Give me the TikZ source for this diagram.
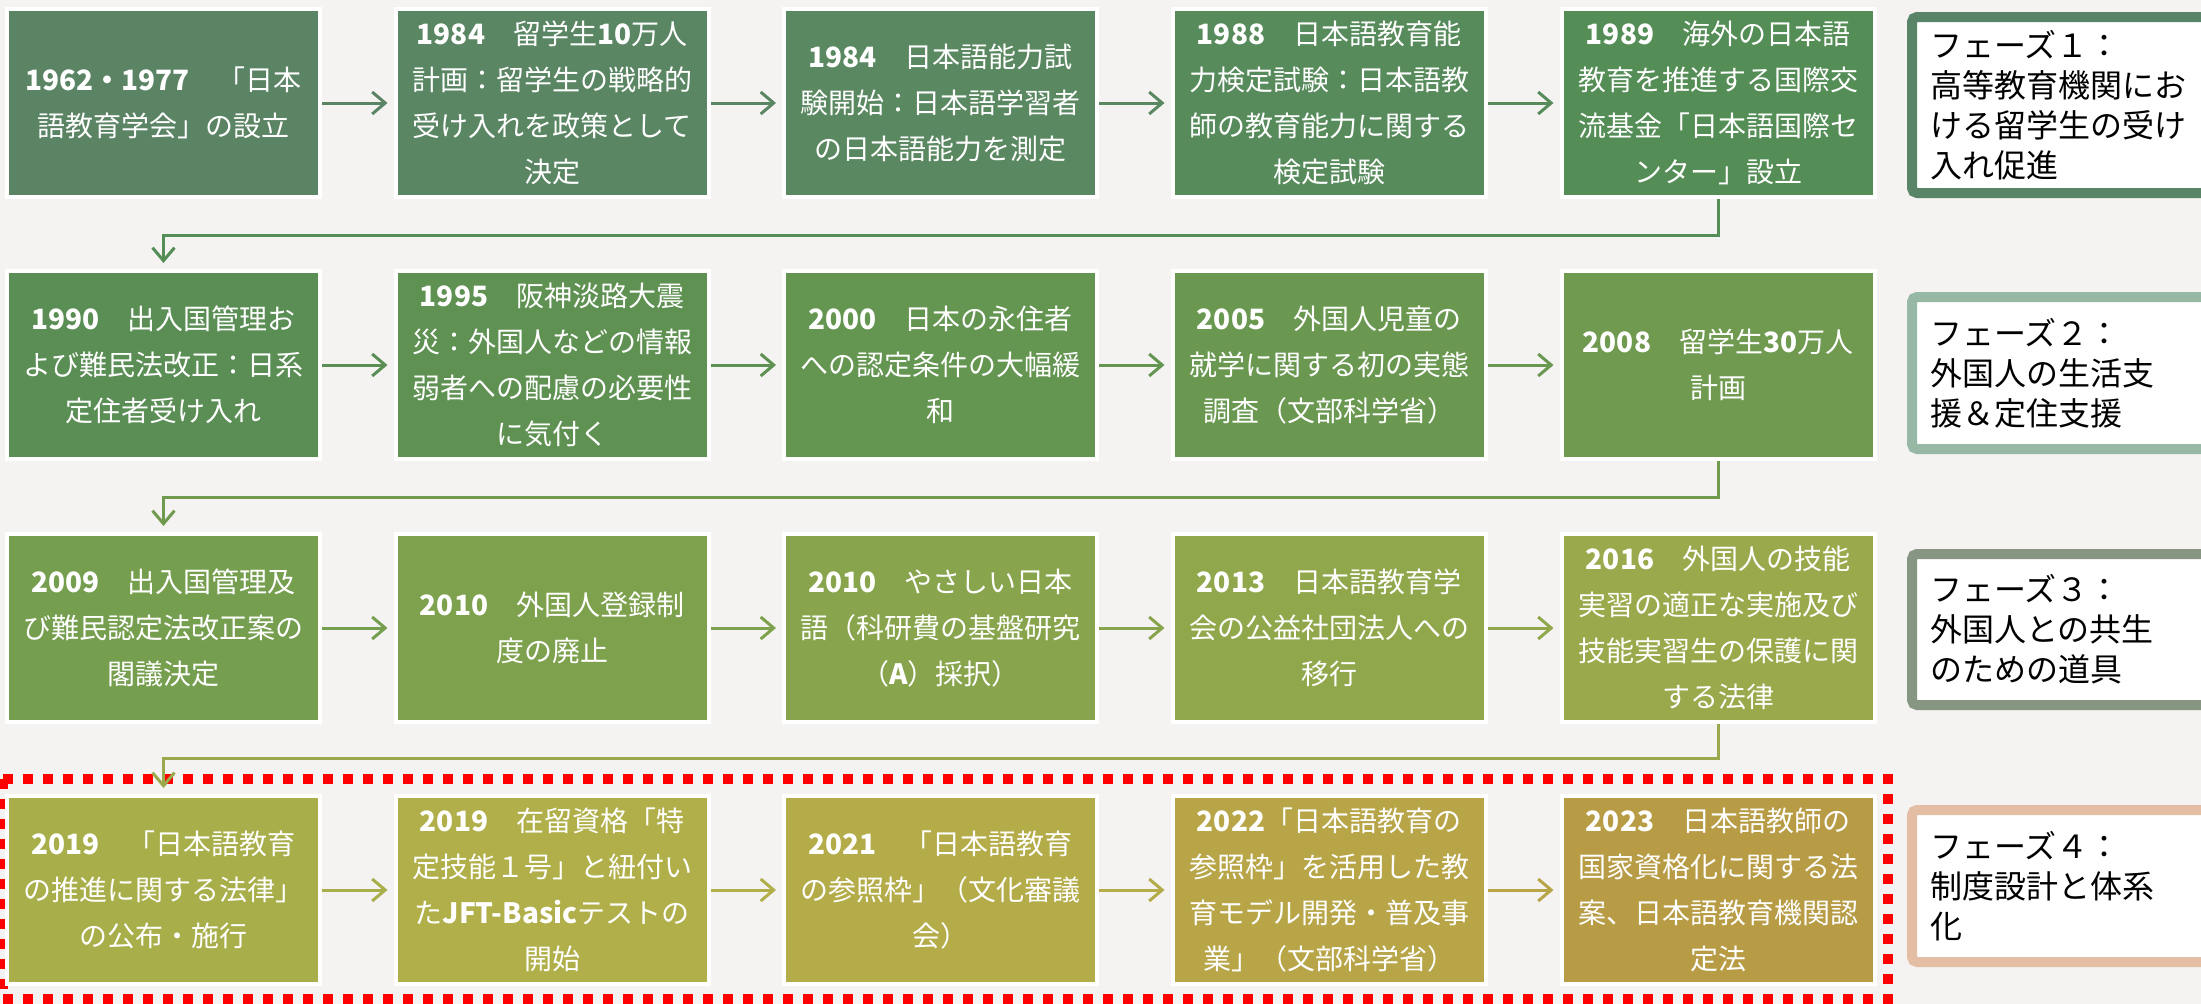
\documentclass[tikz,border=0pt]{standalone}
\usepackage{fontspec}
\setmainfont{Noto Sans CJK JP}
\usetikzlibrary{arrows.meta}
\definecolor{bg}{HTML}{F4F3F1}
\definecolor{c11}{HTML}{5B8465}
\definecolor{c12}{HTML}{5A8663}
\definecolor{c13}{HTML}{5A8861}
\definecolor{c14}{HTML}{578B5C}
\definecolor{c15}{HTML}{548D56}
\definecolor{c21}{HTML}{5A8E55}
\definecolor{c22}{HTML}{5E9152}
\definecolor{c23}{HTML}{649551}
\definecolor{c24}{HTML}{6A9851}
\definecolor{c25}{HTML}{6F9A50}
\definecolor{c31}{HTML}{769E4F}
\definecolor{c32}{HTML}{7EA14E}
\definecolor{c33}{HTML}{88A54D}
\definecolor{c34}{HTML}{91A74C}
\definecolor{c35}{HTML}{9AA94B}
\definecolor{c41}{HTML}{A8AE4A}
\definecolor{c42}{HTML}{B0AF4A}
\definecolor{c43}{HTML}{B4AB49}
\definecolor{c44}{HTML}{B7A548}
\definecolor{c45}{HTML}{B89C45}
\definecolor{p1}{HTML}{5A8468}
\definecolor{p2}{HTML}{97B8A5}
\definecolor{p3}{HTML}{869682}
\definecolor{p4}{HTML}{E3BEA5}
\tikzset{
  evbox/.style={draw=white, line width=4pt, fill=#1, minimum width=313pt,
    minimum height=188pt, text=white, align=center, inner sep=0pt,
    font=\fontsize{28pt}{46pt}\selectfont},
  flow/.style={draw=#1, line width=3pt, -{Straight Barb[length=13pt,width=22pt]},
    shorten >=6pt},
  phase/.style={draw=#1, line width=10pt, fill=white, rounded corners=5pt,
    anchor=north west, text width=304pt, inner xsep=18pt, inner ysep=0pt,
    align=left, text=black, font=\fontsize{32pt}{40pt}\selectfont},
  redframe/.style={draw=red, line width=10pt, dash pattern=on 10pt off 10pt},
}
\begin{document}
\begin{tikzpicture}[x=1pt,y=-1pt]
\fill[bg] (0,0) rectangle (2201,1004);
\useasboundingbox (0,0) rectangle (2201,1004);
\clip (0,0) rectangle (2201,1004);
\draw[redframe] (3,779) rectangle (1888,999);
% row 1
\node[evbox=c11] (b11) at (163.5,103) {\textbf{1962・1977}　「日本\\語教育学会」の設立};
\node[evbox=c12] (b12) at (552,103) {\textbf{1984}　留学生\textbf{10}万人\\計画：留学生の戦略的\\受け入れを政策として\\決定};
\node[evbox=c13] (b13) at (940.5,103) {\textbf{1984}　日本語能力試\\験開始：日本語学習者\\の日本語能力を測定};
\node[evbox=c14] (b14) at (1329,103) {\textbf{1988}　日本語教育能\\力検定試験：日本語教\\師の教育能力に関する\\検定試験};
\node[evbox=c15] (b15) at (1718,103) {\textbf{1989}　海外の日本語\\教育を推進する国際交\\流基金「日本語国際セ\\ンター」設立};
% row 2
\node[evbox=c21] (b21) at (163.5,365) {\textbf{1990}　出入国管理お\\よび難民法改正：日系\\定住者受け入れ};
\node[evbox=c22] (b22) at (552,365) {\textbf{1995}　阪神淡路大震\\災：外国人などの情報\\弱者への配慮の必要性\\に気付く};
\node[evbox=c23] (b23) at (940.5,365) {\textbf{2000}　日本の永住者\\への認定条件の大幅緩\\和};
\node[evbox=c24] (b24) at (1329,365) {\textbf{2005}　外国人児童の\\就学に関する初の実態\\調査（文部科学省）};
\node[evbox=c25] (b25) at (1718,365) {\textbf{2008}　留学生\textbf{30}万人\\計画};
% row 3
\node[evbox=c31] (b31) at (163.5,628) {\textbf{2009}　出入国管理及\\び難民認定法改正案の\\閣議決定};
\node[evbox=c32] (b32) at (552,628) {\textbf{2010}　外国人登録制\\度の廃止};
\node[evbox=c33] (b33) at (940.5,628) {\textbf{2010}　やさしい日本\\語（科研費の基盤研究\\（\textbf{A}）採択）};
\node[evbox=c34] (b34) at (1329,628) {\textbf{2013}　日本語教育学\\会の公益社団法人への\\移行};
\node[evbox=c35] (b35) at (1718,628) {\textbf{2016}　外国人の技能\\実習の適正な実施及び\\技能実習生の保護に関\\する法律};
% row 4
\node[evbox=c41] (b41) at (163.5,890) {\textbf{2019}　「日本語教育\\の推進に関する法律」\\の公布・施行};
\node[evbox=c42] (b42) at (552,890) {\textbf{2019}　在留資格「特\\定技能１号」と紐付い\\た\textbf{JFT-Basic}テストの\\開始};
\node[evbox=c43] (b43) at (940.5,890) {\textbf{2021}　「日本語教育\\の参照枠」（文化審議\\会）};
\node[evbox=c44] (b44) at (1329,890) {\textbf{2022}「日本語教育の\\参照枠」を活用した教\\育モデル開発・普及事\\業」（文部科学省）};
\node[evbox=c45] (b45) at (1718,890) {\textbf{2023}　日本語教師の\\国家資格化に関する法\\案、日本語教育機関認\\定法};
% horizontal arrows
\draw[flow=c11] (b11.east) -- (b12.west);
\draw[flow=c12] (b12.east) -- (b13.west);
\draw[flow=c13] (b13.east) -- (b14.west);
\draw[flow=c14] (b14.east) -- (b15.west);
\draw[flow=c21] (b21.east) -- (b22.west);
\draw[flow=c22] (b22.east) -- (b23.west);
\draw[flow=c23] (b23.east) -- (b24.west);
\draw[flow=c24] (b24.east) -- (b25.west);
\draw[flow=c31] (b31.east) -- (b32.west);
\draw[flow=c32] (b32.east) -- (b33.west);
\draw[flow=c33] (b33.east) -- (b34.west);
\draw[flow=c34] (b34.east) -- (b35.west);
\draw[flow=c41] (b41.east) -- (b42.west);
\draw[flow=c42] (b42.east) -- (b43.west);
\draw[flow=c43] (b43.east) -- (b44.west);
\draw[flow=c44] (b44.east) -- (b45.west);
% row connectors
\coordinate (m1) at (163.5,235);
\coordinate (m2) at (163.5,497);
\coordinate (m3) at (163.5,758);
\draw[flow=c15] (b15.south) |- (m1) -- (b21.north);
\draw[flow=c25] (b25.south) |- (m2) -- (b31.north);
\draw[flow=c35] (b35.south) |- (m3) -- (b41.north);
% phases
\node[phase=p1, minimum height=176pt] (ph1) at (1907,12) {フェーズ１：\\高等教育機関にお\\ける留学生の受け\\入れ促進};
\node[phase=p2, minimum height=152pt] (ph2) at (1907,292) {フェーズ２：\\外国人の生活支\\援＆定住支援};
\node[phase=p3, minimum height=151pt] (ph3) at (1907,549) {フェーズ３：\\外国人との共生\\のための道具};
\node[phase=p4, minimum height=152pt] (ph4) at (1907,805) {フェーズ４：\\制度設計と体系\\化};
\end{tikzpicture}
\end{document}
